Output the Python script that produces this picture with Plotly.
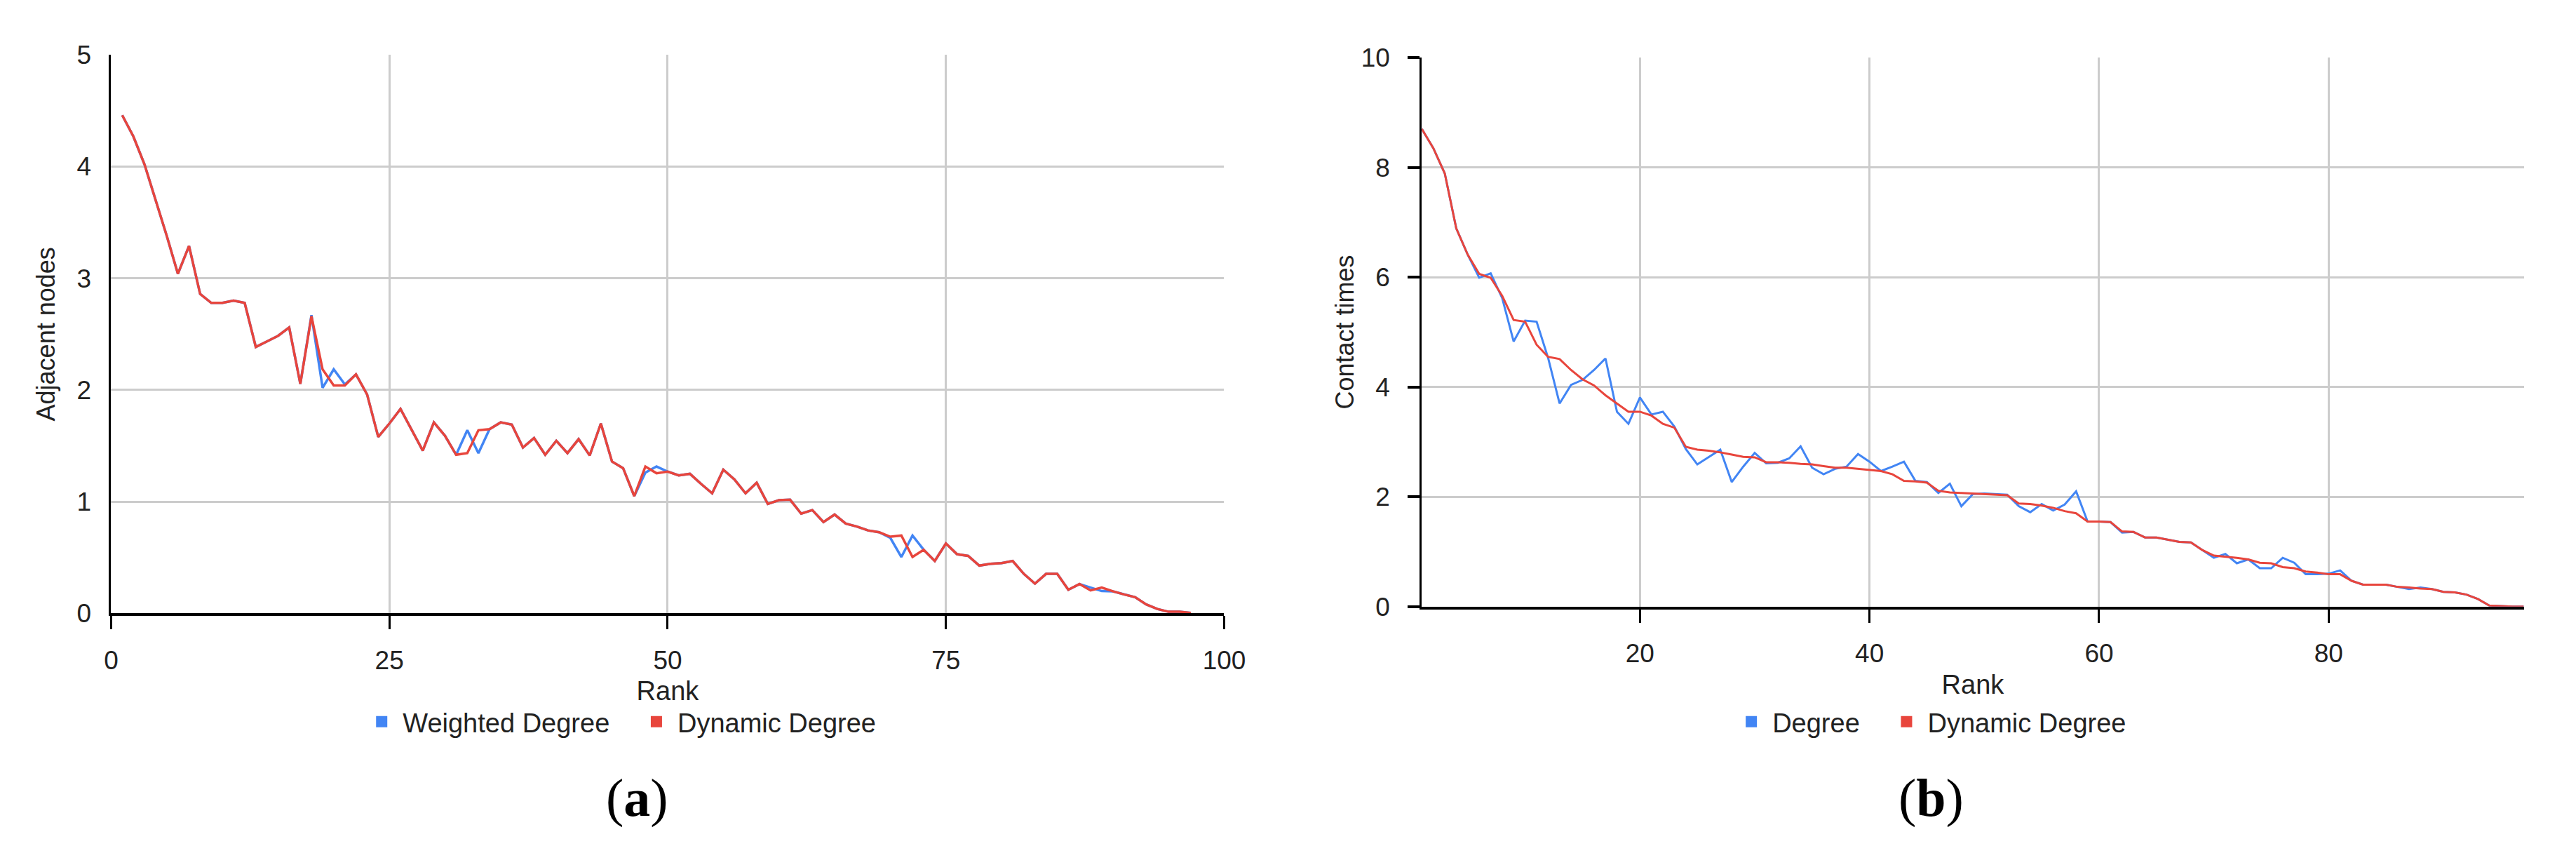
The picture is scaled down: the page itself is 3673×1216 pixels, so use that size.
import plotly.graph_objects as go

# rank on the x axis (both panels)
rank = list(range(1, 98))

# (a) adjacent nodes
weighted_degree = [4.46, 4.27, 4.02, 3.70, 3.38, 3.04, 3.29, 2.86, 2.78, 2.78,
                   2.80, 2.78, 2.385, 2.435, 2.485, 2.56, 2.055, 2.67, 2.02, 2.185,
                   2.05, 2.14, 1.96, 1.58, 1.70, 1.83, 1.64, 1.457, 1.71, 1.59,
                   1.42, 1.64, 1.435, 1.65, 1.71, 1.69, 1.485, 1.57, 1.42, 1.545,
                   1.435, 1.56, 1.415, 1.70, 1.36, 1.30, 1.05, 1.26, 1.315, 1.27,
                   1.236, 1.25, 1.16, 1.075, 1.287, 1.20, 1.075, 1.17, 0.98, 1.014,
                   1.018, 0.893, 0.925, 0.818, 0.885, 0.804, 0.778, 0.743, 0.727, 0.677,
                   0.505, 0.697, 0.57, 0.469, 0.626, 0.53, 0.515, 0.428, 0.444, 0.45,
                   0.469, 0.354, 0.267, 0.354, 0.354, 0.212, 0.263, 0.232, 0.20, 0.198,
                   0.17, 0.145, 0.08, 0.04, 0.015, 0.015, 0.005]
dynamic_degree_a = [4.46, 4.27, 4.02, 3.70, 3.38, 3.04, 3.29, 2.86, 2.78, 2.78,
                    2.80, 2.78, 2.385, 2.435, 2.485, 2.56, 2.055, 2.66, 2.185, 2.04,
                    2.04, 2.14, 1.96, 1.58, 1.70, 1.83, 1.64, 1.457, 1.71, 1.59,
                    1.42, 1.435, 1.64, 1.65, 1.71, 1.69, 1.485, 1.57, 1.42, 1.545,
                    1.435, 1.56, 1.415, 1.70, 1.36, 1.30, 1.05, 1.315, 1.255, 1.27,
                    1.236, 1.25, 1.16, 1.075, 1.287, 1.20, 1.075, 1.17, 0.98, 1.014,
                    1.018, 0.893, 0.925, 0.818, 0.885, 0.804, 0.778, 0.743, 0.727, 0.687,
                    0.697, 0.505, 0.57, 0.469, 0.626, 0.53, 0.515, 0.428, 0.444, 0.45,
                    0.469, 0.354, 0.267, 0.354, 0.354, 0.212, 0.263, 0.206, 0.232, 0.198,
                    0.17, 0.145, 0.08, 0.04, 0.015, 0.015, 0.005]

# (b) contact times
degree = [8.70, 8.35, 7.89, 6.89, 6.41, 5.99, 6.07, 5.62, 4.83, 5.21,
          5.19, 4.53, 3.70, 4.04, 4.13, 4.31, 4.52, 3.55, 3.33, 3.81,
          3.50, 3.55, 3.28, 2.87, 2.59, 2.73, 2.86, 2.27, 2.55, 2.80,
          2.61, 2.62, 2.70, 2.92, 2.53, 2.41, 2.51, 2.55, 2.78, 2.64,
          2.47, 2.55, 2.64, 2.29, 2.27, 2.07, 2.24, 1.83, 2.05, 2.06,
          2.05, 2.04, 1.83, 1.72, 1.87, 1.75, 1.86, 2.10, 1.55, 1.55,
          1.54, 1.35, 1.36, 1.26, 1.26, 1.22, 1.18, 1.17, 1.03, 0.89,
          0.96, 0.79, 0.86, 0.70, 0.70, 0.89, 0.80, 0.59, 0.59, 0.60,
          0.66, 0.47, 0.40, 0.40, 0.40, 0.36, 0.32, 0.35, 0.32, 0.27,
          0.26, 0.22, 0.14, 0.02, 0.01, 0.0, 0.0]
dynamic_degree_b = [8.70, 8.35, 7.89, 6.89, 6.41, 6.06, 5.99, 5.66, 5.22, 5.19,
                    4.77, 4.55, 4.51, 4.31, 4.14, 4.03, 3.85, 3.70, 3.55, 3.55,
                    3.48, 3.33, 3.26, 2.91, 2.86, 2.84, 2.81, 2.77, 2.73, 2.72,
                    2.63, 2.63, 2.62, 2.60, 2.59, 2.56, 2.53, 2.53, 2.51, 2.49,
                    2.47, 2.41, 2.29, 2.28, 2.26, 2.11, 2.08, 2.07, 2.06, 2.05,
                    2.04, 2.03, 1.88, 1.87, 1.84, 1.80, 1.74, 1.70, 1.55, 1.55,
                    1.54, 1.37, 1.36, 1.26, 1.26, 1.22, 1.18, 1.17, 1.03, 0.93,
                    0.91, 0.89, 0.86, 0.80, 0.79, 0.72, 0.70, 0.64, 0.62, 0.59,
                    0.59, 0.47, 0.40, 0.40, 0.40, 0.36, 0.35, 0.33, 0.32, 0.27,
                    0.26, 0.22, 0.14, 0.02, 0.01, 0.0, 0.0]

ticks_a_x = [0, 25, 50, 75, 100]
ticks_a_y = [0, 1, 2, 3, 4, 5]
ticks_b_x = [20, 40, 60, 80]
ticks_b_y = [0, 2, 4, 6, 8, 10]

BLUE = "#4285F4"
RED = "#E8453C"
GRID = "#cccccc"
FONT = "Liberation Sans, Arial, sans-serif"
W, H = 3673, 1216
PAD = "\u00a0" * 3  # extra room between legend entries

fig = go.Figure()

# lines (blue under red)
fig.add_trace(go.Scatter(x=rank, y=weighted_degree, mode="lines", line=dict(color=BLUE, width=3.5),
                         xaxis="x", yaxis="y", showlegend=False))
fig.add_trace(go.Scatter(x=rank, y=dynamic_degree_a, mode="lines", line=dict(color=RED, width=3.5),
                         xaxis="x", yaxis="y", showlegend=False))
fig.add_trace(go.Scatter(x=rank, y=degree, mode="lines", line=dict(color=BLUE, width=3),
                         xaxis="x2", yaxis="y2", showlegend=False))
fig.add_trace(go.Scatter(x=rank, y=dynamic_degree_b, mode="lines", line=dict(color=RED, width=3),
                         xaxis="x2", yaxis="y2", showlegend=False))

# square legend keys like the original
for name, col, xa, ya, lg in [("Weighted Degree" + PAD, BLUE, "x", "y", "legend"),
                              ("Dynamic Degree", RED, "x", "y", "legend"),
                              ("Degree" + PAD, BLUE, "x2", "y2", "legend2"),
                              ("Dynamic Degree", RED, "x2", "y2", "legend2")]:
    fig.add_trace(go.Scatter(x=[None], y=[None], mode="markers", name=name,
                             marker=dict(symbol="square", size=17, color=col),
                             xaxis=xa, yaxis=ya, legend=lg))

tickfont = dict(family=FONT, size=37, color="#222222")
xtitlefont = dict(family=FONT, size=38, color="#222222")
ytitlefont = dict(family=FONT, size=36, color="#222222")
legfont = dict(family=FONT, size=38, color="#222222")

xa_dom = [142 / W, 1747 / W]
ya_dom = [1 - 876 / H, 1 - 52 / H]
xb_dom = [2032 / W, 3621 / W]
yb_dom = [1 - 866 / H, 1 - 56 / H]

fig.update_layout(
    width=W, height=H,
    margin=dict(l=0, r=0, t=0, b=0),
    paper_bgcolor="white", plot_bgcolor="white",
    showlegend=True,
    xaxis=dict(domain=xa_dom, anchor="y", range=[0, 100], tickvals=ticks_a_x,
               showgrid=True, gridcolor=GRID, gridwidth=3, zeroline=False,
               showline=True, linecolor="black", linewidth=4,
               ticks="outside", ticklen=19, tickwidth=3, tickcolor="black",
               ticklabelstandoff=12, tickfont=tickfont,
               title=dict(text="Rank", font=xtitlefont, standoff=12)),
    yaxis=dict(domain=ya_dom, anchor="x", range=[0, 5], tickvals=ticks_a_y,
               showgrid=True, gridcolor=GRID, gridwidth=3, zeroline=False,
               showline=True, linecolor="black", linewidth=3, ticks="",
               ticklabelstandoff=18, tickfont=tickfont,
               title=dict(text="Adjacent nodes", font=ytitlefont, standoff=20)),
    xaxis3=dict(domain=xa_dom, anchor="y", overlaying="x", range=[0, 100], tickvals=ticks_a_x,
                showgrid=False, zeroline=False, showline=False, showticklabels=False,
                ticks="inside", ticklen=19, tickwidth=3, tickcolor="black"),
    xaxis2=dict(domain=xb_dom, anchor="y2", range=[1, 97], tickvals=ticks_b_x,
                showgrid=True, gridcolor=GRID, gridwidth=3, zeroline=False,
                showline=True, linecolor="black", linewidth=4,
                ticks="outside", ticklen=19, tickwidth=3, tickcolor="black",
                ticklabelstandoff=12, tickfont=tickfont,
                title=dict(text="Rank", font=xtitlefont, standoff=12)),
    yaxis2=dict(domain=yb_dom, anchor="x2", range=[0, 10], tickvals=ticks_b_y,
                showgrid=True, gridcolor=GRID, gridwidth=3, zeroline=False,
                showline=True, linecolor="black", linewidth=3,
                ticks="outside", ticklen=17, tickwidth=4, tickcolor="black",
                ticklabelstandoff=18, tickfont=tickfont,
                title=dict(text="Contact times", font=ytitlefont, standoff=0)),
    xaxis4=dict(domain=xb_dom, anchor="y2", overlaying="x2", range=[1, 97], tickvals=ticks_b_x,
                showgrid=False, zeroline=False, showline=False, showticklabels=False,
                ticks="inside", ticklen=19, tickwidth=3, tickcolor="black"),
    yaxis4=dict(domain=yb_dom, anchor="x2", overlaying="y2", range=[0, 10], tickvals=ticks_b_y,
                showgrid=False, zeroline=False, showline=False, showticklabels=False,
                ticks="inside", ticklen=17, tickwidth=4, tickcolor="black"),
    legend=dict(orientation="h", x=876 / W, y=1 - 1036 / H, xanchor="center", yanchor="middle",
                font=legfont, itemwidth=50, bgcolor="rgba(0,0,0,0)"),
    legend2=dict(orientation="h", x=2765 / W, y=1 - 1036 / H, xanchor="center", yanchor="middle",
                 font=legfont, itemwidth=50, bgcolor="rgba(0,0,0,0)"),
    annotations=[
        dict(text="(<b>a</b>)", x=901 / W, y=1 - 1148 / H, xref="paper", yref="paper",
             xanchor="center", yanchor="middle", showarrow=False,
             font=dict(family="Liberation Serif, serif", size=76, color="black")),
        dict(text="(<b>b</b>)", x=2766 / W, y=1 - 1148 / H, xref="paper", yref="paper",
             xanchor="center", yanchor="middle", showarrow=False,
             font=dict(family="Liberation Serif, serif", size=76, color="black")),
    ],
)

fig.write_html("out.html")
